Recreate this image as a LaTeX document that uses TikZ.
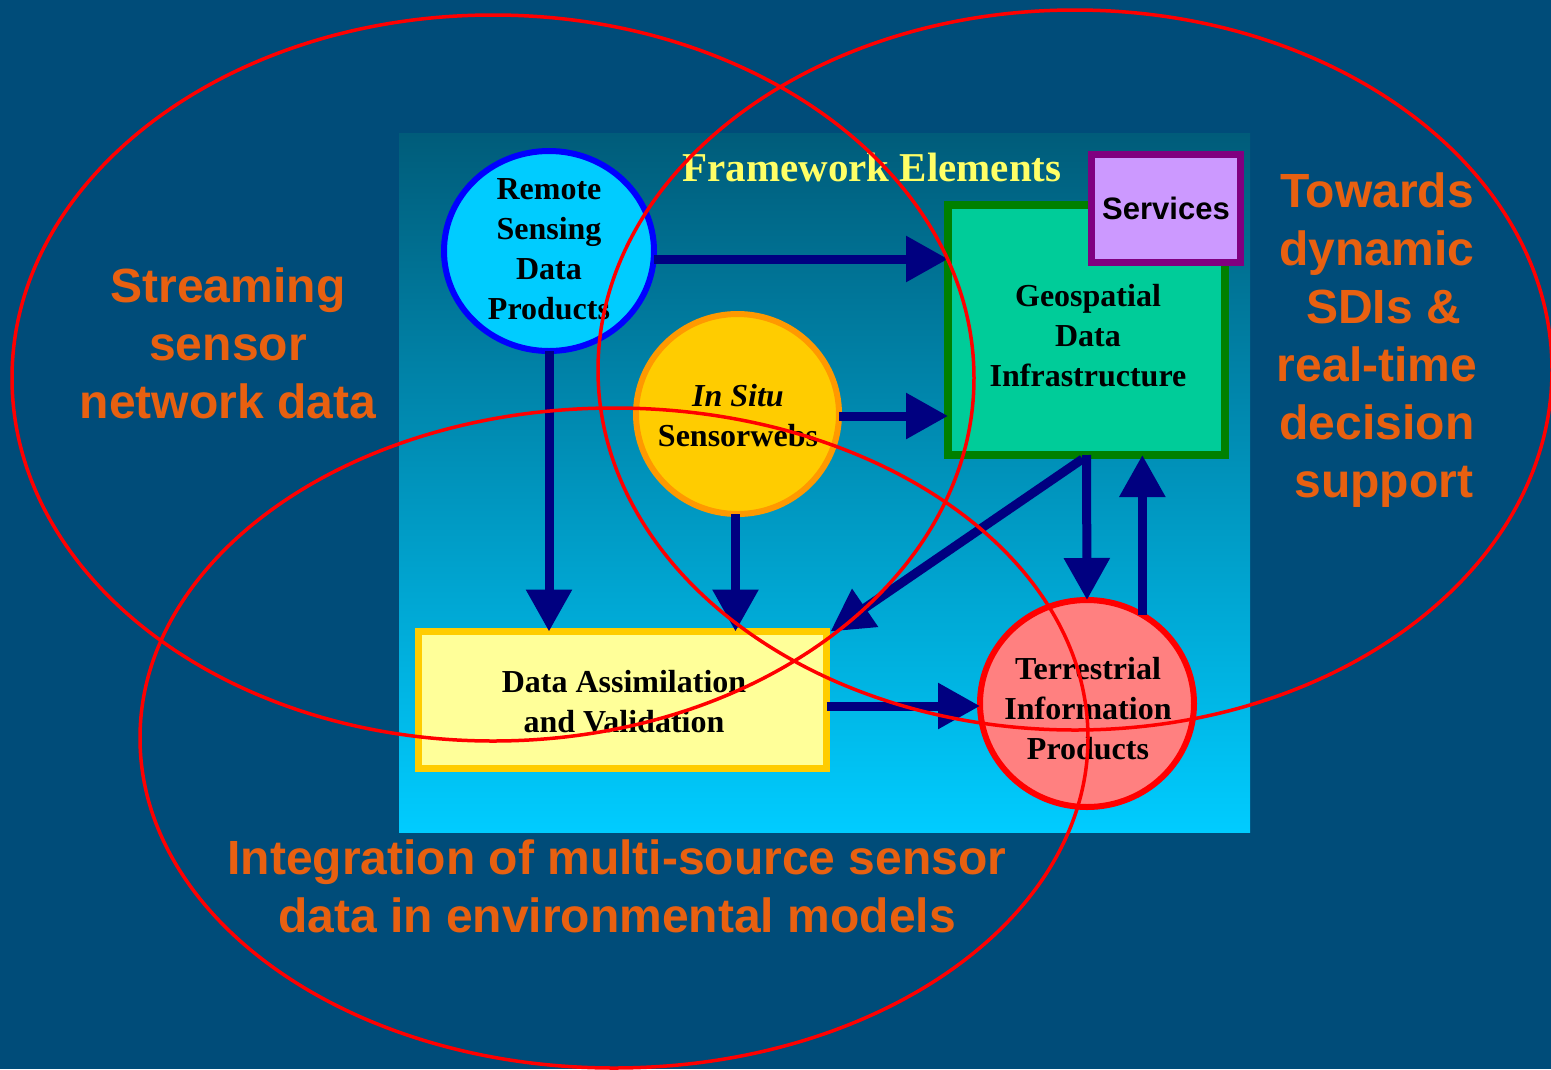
\documentclass[tikz,border=0pt]{standalone}
\usepackage{fontspec}
\setmainfont{Liberation Serif}
\setsansfont{Liberation Sans}
\usetikzlibrary{arrows.meta,shapes.geometric,calc}
\definecolor{bg}{RGB}{0,76,121}
\definecolor{ptop}{RGB}{0,92,122}
\definecolor{pbot}{RGB}{0,204,255}
\definecolor{navy}{RGB}{0,0,128}
\definecolor{orangetxt}{RGB}{232,96,16}
\definecolor{rsfill}{RGB}{0,204,255}
\definecolor{isfill}{RGB}{255,204,0}
\definecolor{isdraw}{RGB}{255,153,0}
\definecolor{gdifill}{RGB}{0,204,153}
\definecolor{gdidraw}{RGB}{0,128,0}
\definecolor{svfill}{RGB}{204,153,255}
\definecolor{svdraw}{RGB}{128,0,128}
\definecolor{dafill}{RGB}{255,255,153}
\definecolor{dadraw}{RGB}{255,204,0}
\definecolor{tpfill}{RGB}{255,128,128}
\definecolor{ttl}{RGB}{255,255,102}
\tikzset{
  nodetext/.style={font=\fontsize{32}{40}\selectfont\bfseries, align=center, text=black, inner sep=0pt},
  shapebox/.style={inner sep=0pt, outer sep=0pt},
  arr/.style={draw=navy, line width=9pt, -{Triangle[length=42pt,width=44pt]}},
  redell/.style={draw=red, line width=3.5pt},
  orangelabel/.style={font=\sffamily\bfseries\fontsize{48}{58}\selectfont, text=orangetxt, align=center, inner sep=0pt}
}
\begin{document}
\begin{tikzpicture}[x=1pt,y=-1pt]
\useasboundingbox (0,0) rectangle (1551,1069);
\fill[bg] (0,0) rectangle (1551,1069);
\shade[top color=ptop, bottom color=pbot] (399,133) rectangle (1250,832);

\node[font=\fontsize{41}{48}\selectfont\bfseries, text=ttl, inner sep=0pt] (title) at (872,167) {Framework Elements};

% shapes
\node[shapebox, ellipse, draw=blue, line width=6pt, fill=rsfill, minimum width=210pt, minimum height=200pt] (rs) at (549,251) {};
\node[shapebox, ellipse, draw=isdraw, line width=6pt, fill=isfill, minimum width=203pt, minimum height=200pt] (is) at (737.5,414) {};
\node[shapebox, rectangle, draw=gdidraw, line width=8pt, fill=gdifill, minimum width=277pt, minimum height=250pt] (gdi) at (1086.5,330) {};
\node[shapebox, rectangle, draw=svdraw, line width=7pt, fill=svfill, minimum width=149pt, minimum height=108pt, font=\sffamily\bfseries\fontsize{31}{36}\selectfont] (sv) at (1166,208.5) {Services};
\node[shapebox, rectangle, draw=dadraw, line width=7pt, fill=dafill, minimum width=408pt, minimum height=137pt] (da) at (622.5,700) {};
\node[shapebox, ellipse, draw=red, line width=6pt, fill=tpfill, minimum width=214pt, minimum height=207pt] (tp) at (1087,703.5) {};

% texts
\node[nodetext] (rstext) at (549,249) {Remote\\Sensing\\Data\\Products};
\node[nodetext] (istext) at (738,416) {\textit{In Situ}\\Sensorwebs};
\node[nodetext] (gditext) at (1088,336) {Geospatial\\Data\\Infrastructure};
\node[nodetext] (datext) at (624,702) {Data Assimilation\\and Validation};
\node[nodetext] (tptext) at (1088,709) {Terrestrial\\Information\\Products};

% connectors
\coordinate (a1) at ($(rs.east)+(0,8)$);
\coordinate (a2) at ($(is.east)+(0,2)$);
\coordinate (a4) at ($(is.south)+(-2,0)$);
\coordinate (a5) at ($(gdi.south)+(-4,4)$);
\coordinate (a5e) at ($(da.north east)+(4,0)$);
\coordinate (a8) at ($(da.east)+(0,6)$);
\draw[arr] (a1) -- (a1 -| gdi.west);
\draw[arr] (a2) -- (a2 -| gdi.west);
\draw[arr] (rs.south) -- (rs.south |- da.north);
\draw[arr] (a4) -- (a4 |- da.north);
\draw[arr] (a5) -- (a5e);
\draw[arr] (gdi.south) -- (tp.north);
\draw[arr] (tp.58) -- (tp.58 |- gdi.south);
\draw[arr] (a8) -- (a8 -| tp.west);

% red ellipses
\draw[redell] (493,378) ellipse [x radius=481pt, y radius=363pt];
\draw[redell] (1075,370) ellipse [x radius=477pt, y radius=360pt];
\draw[redell] (614,738) ellipse [x radius=474pt, y radius=330pt];

\node[orangelabel] (lstream) at (228,343) {Streaming\\sensor\\network data};
\node[orangelabel] (ltowards) at (1377,340) {Towards\\dynamic\\\ SDIs \&\\real-time\\decision\\\ support};
\node[orangelabel] (lintegr) at (617,886) {Integration of multi-source sensor\\data in environmental models};
\end{tikzpicture}
\end{document}
